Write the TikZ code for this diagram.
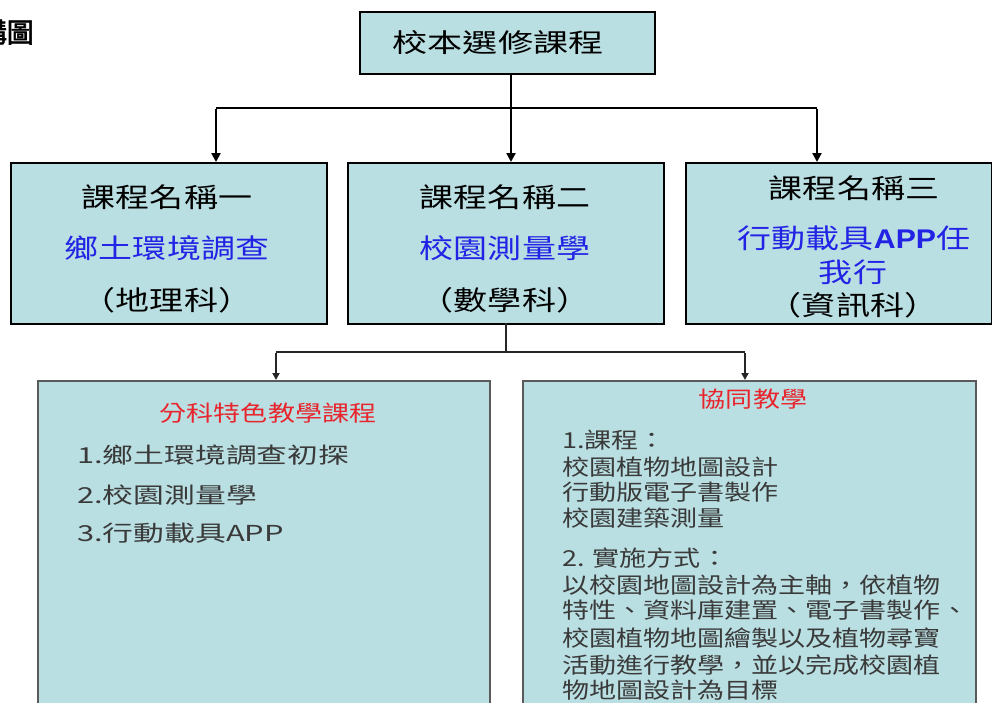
\documentclass[tikz,border=0pt]{standalone}
\usepackage{fontspec}
\usetikzlibrary{arrows.meta}
\newfontfamily\cjkT[FakeStretch=1.35]{Noto Sans CJK TC}
\newfontfamily\cjkB[FakeStretch=1.26]{Noto Sans CJK TC}
\newfontfamily\cjkC[FakeStretch=1.4]{Noto Sans CJK TC}
\newfontfamily\cjkD[FakeStretch=1.23]{Noto Sans CJK TC}
\newfontfamily\cjkH[FakeBold=2.5]{Noto Sans CJK TC}
\newfontfamily\appfont[FakeStretch=1.12]{Liberation Sans}
\definecolor{boxfill}{HTML}{BADFE2}
\definecolor{cblue}{HTML}{2323E6}
\definecolor{cred}{HTML}{E8242C}
\definecolor{gtext}{HTML}{3A3A3A}
\definecolor{gborder}{HTML}{5A5A5A}
\tikzset{
  box/.style={draw=black, line width=1.6pt, fill=boxfill, anchor=north west, inner sep=0pt},
  lowbox/.style={draw=gborder, line width=1.6pt, fill=boxfill, anchor=north west, inner sep=0pt},
  conn/.style={line width=2.6pt, black},
  arr/.style={conn, -{Triangle[length=9pt,width=9pt]}},
  conn2/.style={line width=2.2pt, black!85},
  arr2/.style={conn2, -{Triangle[length=7pt,width=7pt]}},
  txtT/.style={inner sep=0pt, font=\cjkT\fontsize{26}{30}\selectfont},
  txtB/.style={inner sep=0pt, font=\cjkB\fontsize{27}{31}\selectfont},
  txtC/.style={inner sep=0pt, anchor=west, text=gtext, font=\cjkC\fontsize{22}{26}\selectfont},
  txtD/.style={inner sep=0pt, anchor=west, text=gtext, font=\cjkD\fontsize{22}{26}\selectfont},
  ttl/.style={inner sep=0pt, text=cred, font=\cjkD\fontsize{22}{26}\selectfont},
}
\begin{document}
\begin{tikzpicture}[x=1pt,y=-1pt]
\useasboundingbox (0,0) rectangle (992,702);
% heading fragment (cut at the left edge, as in the reference)
\node[inner sep=0pt, anchor=east, font=\cjkH\fontsize{27}{30}\selectfont] (head) at (34,32) {構圖};
% boxes
\node[box, minimum width=295pt, minimum height=62pt] (top) at (359,11) {};
\node[box, minimum width=316pt, minimum height=161pt] (c1) at (10,162) {};
\node[box, minimum width=316pt, minimum height=161pt] (c2) at (347,162) {};
\node[box, minimum width=306pt, minimum height=161pt] (c3) at (685,162) {};
\node[lowbox, minimum width=452pt, minimum height=360pt] (s1) at (37,380) {};
\node[lowbox, minimum width=453pt, minimum height=360pt] (s2) at (522,380) {};
% texts top
\node[txtT] (ttop) at (498,43) {校本選修課程};
\node[txtB] (t1a) at (167,197) {課程名稱一};
\node[txtB, text=cblue] (t1b) at (167,248) {鄉土環境調查};
\node[txtB] (t1c) at (167,300) {（地理科）};
\node[txtB] (t2a) at (505,197) {課程名稱二};
\node[txtB, text=cblue] (t2b) at (505,248) {校園測量學};
\node[txtB] (t2c) at (505,300) {（數學科）};
\node[txtB] (t3a) at (854,188) {課程名稱三};
\node[txtB, text=cblue] (t3b) at (854,238) {行動載具{\appfont\bfseries APP}任};
\node[txtB, text=cblue] (t3c) at (853,272) {我行};
\node[txtB] (t3d) at (853,305) {（資訊科）};
% lower left
\node[ttl] (h1) at (268,413) {分科特色教學課程};
\node[txtC] (l1) at (77,455) {1.鄉土環境調查初探};
\node[txtC] (l2) at (77,495) {2.校園測量學};
\node[txtC] (l3) at (77,533) {3.行動載具APP};
% lower right
\node[ttl] (h2) at (753,399) {協同教學};
\node[txtD] (r1) at (562,440) {1.課程：};
\node[txtD] (r2) at (562,467) {校園植物地圖設計};
\node[txtD] (r3) at (562,492) {行動版電子書製作};
\node[txtD] (r4) at (562,518) {校園建築測量};
\node[txtD] (r5) at (562,558) {2. 實施方式：};
\node[txtD] (r6) at (562,585) {以校園地圖設計為主軸，依植物};
\node[txtD] (r7) at (562,610) {特性、資料庫建置、電子書製作、};
\node[txtD] (r8) at (562,638) {校園植物地圖繪製以及植物尋寶};
\node[txtD] (r9) at (562,665) {活動進行教學，並以完成校園植};
\node[txtD] (r10) at (562,690) {物地圖設計為目標};
% connectors top
\coordinate (tstart) at (511,73);
\coordinate (jl) at (216,108);
\coordinate (jr) at (817,108);
\draw[arr] (tstart) -- (c2.north -| tstart);
\draw[conn] (jl) -- (jr);
\draw[arr] ([yshift=-1.3pt]jl) -- (c1.north -| jl);
\draw[arr] ([yshift=-1.3pt]jr) -- (c3.north -| jr);
% connectors lower
\coordinate (bstart) at (506,323);
\coordinate (kl) at (276,352);
\coordinate (kr) at (745,352);
\draw[conn2] (bstart) -- (bstart |- kl);
\draw[conn2] (kl) -- (kr);
\draw[arr2] ([yshift=-1.1pt]kl) -- (s1.north -| kl);
\draw[arr2] ([yshift=-1.1pt]kr) -- (s2.north -| kr);
\end{tikzpicture}
\end{document}
